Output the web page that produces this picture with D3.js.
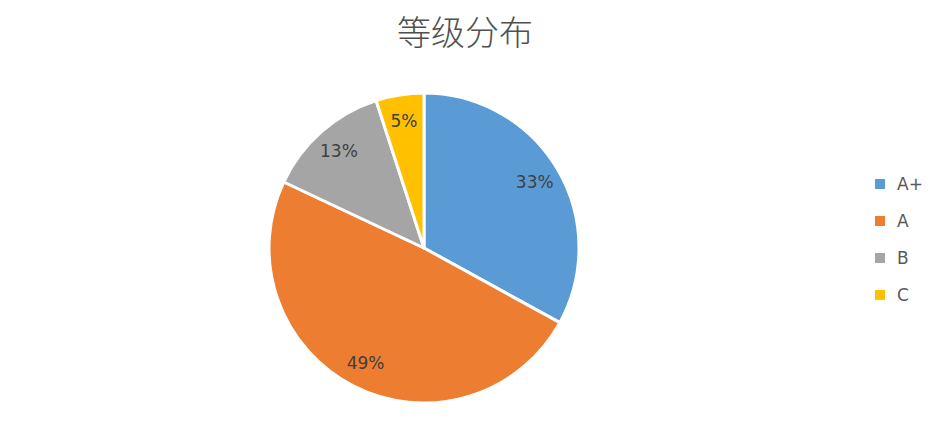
<!DOCTYPE html>
<html>
<head>
<meta charset="UTF-8">
<title>等级分布</title>
<script src="https://cdn.jsdelivr.net/npm/d3@7/dist/d3.min.js"></script>
<style>
	body { margin: 0; background: #fff; }
	svg { display: block; }
</style>
</head>
<body>
	<svg></svg>
	<script type="text/javascript">
		// data
		var categories = ["A+", "A", "B", "C"];
		var values = [33, 49, 13, 5];
		var colors = ["#5B9BD5", "#ED7D31", "#A5A5A5", "#FFC000"];
		var title = "等级分布";

		var width = 936, height = 432;
		var cx = 424, cy = 248, radius = 155;

		var svg = d3.select("svg")
			.attr("width", width)
			.attr("height", height);

		// title
		svg.append("text")
			.attr("x", 465)
			.attr("y", 45)
			.attr("text-anchor", "middle")
			.attr("fill", "#505050")
			.style("font-family", "'Noto Sans CJK SC', sans-serif")
			.style("font-weight", "300")
			.style("font-size", "34px")
			.text(title);

		var data = categories.map(function(c, i) {
			return { name: c, value: values[i], color: colors[i] };
		});

		var pie = d3.pie()
			.sort(null)
			.value(function(d) { return d.value; });

		var arc = d3.arc().innerRadius(0).outerRadius(radius);
		var labelArc = d3.arc().innerRadius(radius * 0.83).outerRadius(radius * 0.83);

		var g = svg.append("g").attr("transform", "translate(" + cx + "," + cy + ")");

		var arcs = pie(data);

		g.selectAll("path.slice")
			.data(arcs)
			.enter()
			.append("path")
			.attr("class", "slice")
			.attr("d", arc)
			.attr("fill", function(d) { return d.data.color; })
			.attr("stroke", "#fff")
			.attr("stroke-width", 3)
			.attr("stroke-linejoin", "round");

		var total = d3.sum(values);

		//数据标签
		g.selectAll("text.label")
			.data(arcs)
			.enter()
			.append("text")
			.attr("class", "label")
			.attr("transform", function(d) {
				var p = labelArc.centroid(d);
				return "translate(" + p[0] + "," + p[1] + ")";
			})
			.attr("text-anchor", "middle")
			.attr("dy", "0.35em")
			.attr("fill", "#404040")
			.style("font-family", "'DejaVu Sans', sans-serif")
			.style("font-size", "17px")
			.text(function(d) { return Math.round(d.data.value / total * 100) + "%"; });

		// legend
		var legend = svg.append("g").attr("transform", "translate(875,184)");
		var rowStep = 37;

		var item = legend.selectAll("g.item")
			.data(data)
			.enter()
			.append("g")
			.attr("class", "item")
			.attr("transform", function(d, i) { return "translate(0," + i * rowStep + ")"; });

		item.append("rect")
			.attr("x", 0)
			.attr("y", -5)
			.attr("width", 10)
			.attr("height", 10)
			.attr("fill", function(d) { return d.color; });

		item.append("text")
			.attr("x", 22)
			.attr("dy", "0.35em")
			.attr("fill", "#595959")
			.style("font-family", "'DejaVu Sans', sans-serif")
			.style("font-size", "17px")
			.text(function(d) { return d.name; });
	</script>
</body>
</html>
